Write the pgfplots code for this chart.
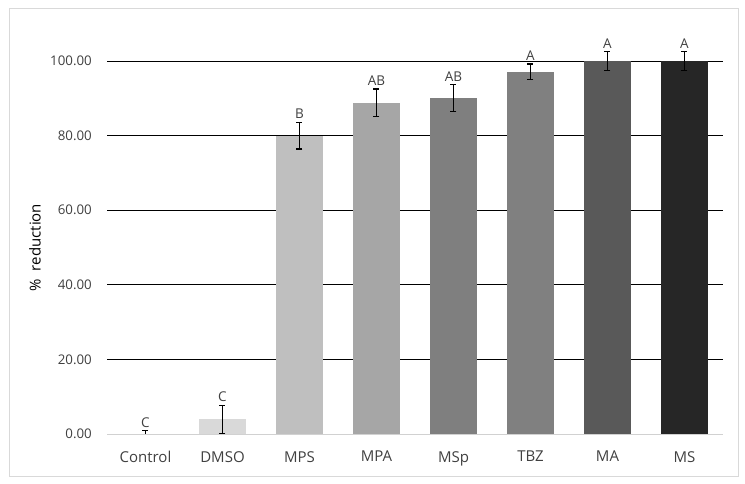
\documentclass[border=0pt]{standalone}
\usepackage{fontspec}
\setmainfont{Open Sans}
\usepackage{pgfplots}
\pgfplotsset{compat=1.18}

\definecolor{cDMSO}{HTML}{D9D9D9}
\definecolor{cMPS}{HTML}{BFBFBF}
\definecolor{cMPA}{HTML}{A6A6A6}
\definecolor{cMSp}{HTML}{7F7F7F}
\definecolor{cTBZ}{HTML}{808080}
\definecolor{cMA}{HTML}{595959}
\definecolor{cMS}{HTML}{262626}
\definecolor{txt}{HTML}{404040}

\pgfplotstableread{
x  y     lab
0  0.9   C
1  7.7   C
2  83.6  B
3  92.5  AB
4  93.6  AB
5  99.2  A
6  102.6 A
7  102.6 A
}\letters

\begin{document}
\fontsize{15}{17}\selectfont
\begin{tikzpicture}[x=1pt,y=1pt]
\path (0,0) rectangle (745,484);
\draw[black!15, line width=0.8pt] (9,8) rectangle (738,476);
\begin{axis}[
    at={(107pt,50pt)}, anchor=south west,
    scale only axis,
    width=616pt, height=373pt,
    xmin=-0.5, xmax=7.5,
    ymin=0, ymax=100,
    clip=false,
    axis line style={draw=none},
    axis x line*=bottom,
    axis y line*=left,
    major tick length=0pt,
    xtick={0,...,7},
    xticklabels={Control,DMSO,MPS,MPA,MSp,TBZ,MA,MS},
    ytick={0,20,...,100},
    extra y ticks={20,40,60,80,100},
    extra y tick labels={},
    extra y tick style={ymajorgrids=true, major grid style={black, line width=0.9pt}},
    yticklabel style={/pgf/number format/fixed, /pgf/number format/fixed zerofill,
        /pgf/number format/precision=2, /pgf/number format/assume math mode=true,
        xshift=-10pt, font=\fontsize{13.3}{15}\selectfont},
    xticklabel style={yshift=-12pt, font=\fontsize{15}{17}\selectfont},
    tick label style={text=txt},
    ylabel={\%\ \ reduction},
    ylabel style={text=txt, font=\fontsize{14.5}{17}\selectfont},
    every axis y label/.style={at={(axis description cs:0,0.5)}, xshift=-72pt, rotate=90, anchor=center},
    ybar, bar width=47pt, bar shift=0pt,
    error bars/y dir=both, error bars/y explicit,
    error bars/error bar style={black, line width=1.2pt},
    error bars/error mark options={rotate=90, mark size=3pt, black, line width=1.2pt},
]
\draw[black!18, line width=0.9pt] (axis cs:-0.5,0) -- (axis cs:7.5,0);
\addplot[fill=white, draw=none, error bars/y dir=plus] coordinates {(0,0) +- (0,0.9)};
\addplot[fill=cDMSO, draw=none] coordinates {(1,3.9) +- (0,3.8)};
\addplot[fill=cMPS, draw=none] coordinates {(2,80.0) +- (0,3.6)};
\addplot[fill=cMPA, draw=none] coordinates {(3,88.8) +- (0,3.7)};
\addplot[fill=cMSp, draw=none] coordinates {(4,90.0) +- (0,3.6)};
\addplot[fill=cTBZ, draw=none] coordinates {(5,97.1) +- (0,2.1)};
\addplot[fill=cMA, draw=none] coordinates {(6,100.0) +- (0,2.6)};
\addplot[fill=cMS, draw=none] coordinates {(7,100.0) +- (0,2.6)};
\addplot[draw=none, fill=none, error bars/y dir=none, nodes near coords, point meta=explicit symbolic,
    nodes near coords style={anchor=south, text=txt, font=\fontsize{13.5}{16}\selectfont, inner sep=1pt, yshift=2pt}]
    table[x=x, y=y, meta=lab] {\letters};
\end{axis}
\end{tikzpicture}
\end{document}
